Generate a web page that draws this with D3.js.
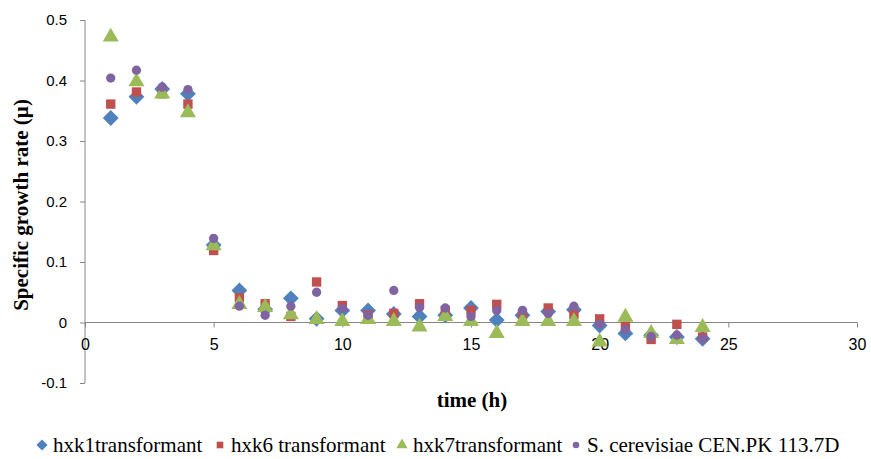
<!DOCTYPE html>
<html>
<head>
<meta charset="utf-8">
<script src="https://cdn.jsdelivr.net/npm/d3@7"></script>
<style>
  body { margin: 0; background: #fff; }
  svg { display: block; }
  .tick text { font-family: "Liberation Sans", Arial, sans-serif; font-size: 15px; fill: #000; }
  .axis path, .axis line { stroke: #868686; }
</style>
</head>
<body>
<svg id="chart" width="871" height="459"></svg>
<script>
'use strict';

const hours = [1, 2, 3, 4, 5, 6, 7, 8, 9, 10, 11, 12, 13, 14, 15, 16, 17, 18, 19, 20, 21, 22, 23, 24];
const hxk1 = [0.338, 0.373, 0.386, 0.378, 0.128, 0.053, 0.022, 0.040, 0.006, 0.020, 0.020, 0.014, 0.010, 0.012, 0.024, 0.004, 0.012, 0.018, 0.021, -0.005, -0.018, -0.021, -0.024, -0.027];
const hxk6 = [0.361, 0.381, 0.378, 0.361, 0.119, 0.041, 0.031, 0.010, 0.067, 0.028, 0.013, 0.015, 0.031, 0.020, 0.020, 0.030, 0.014, 0.024, 0.013, 0.006, -0.006, -0.028, -0.003, -0.024];
const hxk7 = [0.472, 0.398, 0.378, 0.347, 0.127, 0.030, 0.025, 0.013, 0.005, 0.002, 0.005, 0.002, -0.007, 0.010, 0.002, -0.018, 0.002, 0.002, 0.002, -0.032, 0.009, -0.018, -0.028, -0.008];
const scer = [0.404, 0.417, 0.389, 0.385, 0.139, 0.027, 0.012, 0.027, 0.050, 0.023, 0.012, 0.053, 0.025, 0.024, 0.010, 0.020, 0.020, 0.015, 0.027, -0.003, -0.012, -0.023, -0.021, -0.027];

const xTicks = [0, 5, 10, 15, 20, 25, 30];
const yTicks = [-0.1, 0, 0.1, 0.2, 0.3, 0.4, 0.5];

// Excel style diamond: a square turned 45 degrees
const diamond = {
    draw(ctx, size) {
        const r = Math.sqrt(size / 2);
        ctx.moveTo(0, -r);
        ctx.lineTo(r, 0);
        ctx.lineTo(0, r);
        ctx.lineTo(-r, 0);
        ctx.closePath();
    }
};

const series = [
    { name: 'hxk1transformant', values: hxk1, color: '#4F81BD', symbol: diamond, size: 125, lx: 42 },
    { name: 'hxk6 transformant', values: hxk6, color: '#C0504D', symbol: d3.symbolSquare, size: 88, lx: 220 },
    { name: 'hxk7transformant', values: hxk7, color: '#9BBB59', symbol: d3.symbolTriangle, size: 112, lx: 402 },
    { name: 'S. cerevisiae CEN.PK 113.7D', values: scer, color: '#8064A2', symbol: d3.symbolCircle, size: 68, lx: 576 }
];

const svg = d3.select('#chart');

const x = d3.scaleLinear().domain([0, 30]).range([85, 857]);
const y = d3.scaleLinear().domain([-0.1, 0.5]).range([383, 20]);

// y axis
svg.append('g')
    .attr('class', 'axis')
    .attr('transform', `translate(${x(0)},0)`)
    .call(d3.axisLeft(y).tickValues(yTicks).tickSize(5).tickPadding(13)
        .tickFormat(d => d === 0 ? '0' : d.toFixed(1)))
    .call(g => g.select('.domain').attr('d', `M0,${y(0.5)}V${y(-0.1)}`));

// x axis crosses at y = 0
svg.append('g')
    .attr('class', 'axis')
    .attr('transform', `translate(0,${y(0)})`)
    .call(d3.axisBottom(x).tickValues(xTicks).tickSize(5).tickPadding(11).tickFormat(d3.format('d')))
    .call(g => g.select('.domain').attr('d', `M${x(0)},0H${x(30)}`))
    .call(g => g.selectAll('.tick text').style('font-size', '16px'));

// markers
series.forEach(s => {
    svg.append('g')
        .selectAll('path')
        .data(s.values.map((v, i) => [hours[i], v]))
        .join('path')
        .attr('d', d3.symbol().type(s.symbol).size(s.size))
        .attr('transform', d => `translate(${x(d[0])},${y(d[1])})`)
        .attr('fill', s.color);
});

// axis titles
svg.append('text')
    .attr('transform', `translate(28,205) rotate(-90)`)
    .attr('text-anchor', 'middle')
    .attr('font-family', '"Liberation Serif", "Times New Roman", serif')
    .attr('font-weight', 'bold')
    .attr('font-size', 21)
    .text('Specific growth rate (µ)');

svg.append('text')
    .attr('x', 472)
    .attr('y', 407)
    .attr('text-anchor', 'middle')
    .attr('font-family', '"Liberation Serif", "Times New Roman", serif')
    .attr('font-weight', 'bold')
    .attr('font-size', 21)
    .text('time (h)');

// legend
const legend = svg.append('g').attr('transform', 'translate(0,445)');
series.forEach(s => {
    legend.append('path')
        .attr('d', d3.symbol().type(s.symbol).size(s.size * 0.5))
        .attr('transform', `translate(${s.lx},0)`)
        .attr('fill', s.color);
    legend.append('text')
        .attr('x', s.lx + 11)
        .attr('y', 7)
        .attr('font-family', '"Liberation Serif", "Times New Roman", serif')
        .attr('font-size', 21)
        .text(s.name);
});
</script>
</body>
</html>
